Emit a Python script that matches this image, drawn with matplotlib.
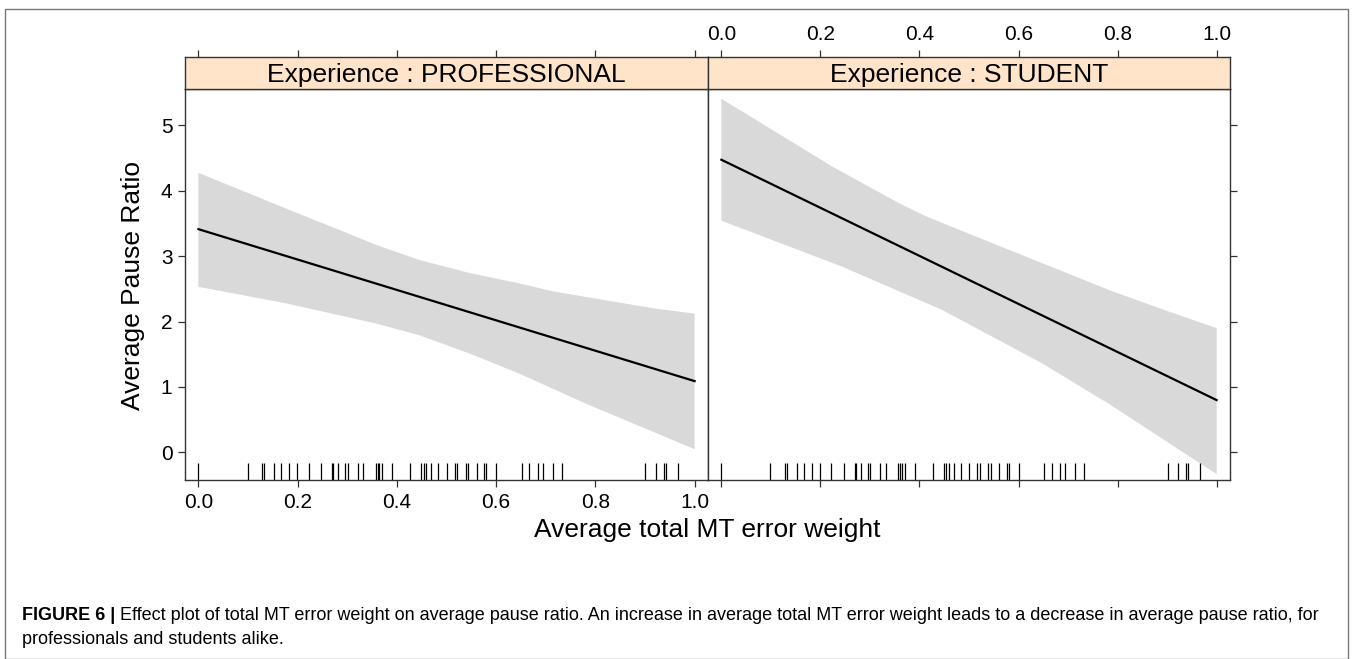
import matplotlib
matplotlib.use('Agg')
import matplotlib.pyplot as plt
from matplotlib.patches import Rectangle
from matplotlib.transforms import blended_transform_factory

plt.rcParams['font.family'] = ['Liberation Sans', 'DejaVu Sans']

# ---------------- data ----------------
panel_titles = ['Experience : PROFESSIONAL', 'Experience : STUDENT']

fit_x = [0.0, 1.0]
fit_pro = [3.41, 1.09]
fit_stu = [4.47, 0.80]

upper_pro_x = [0.0, 0.175, 0.29, 0.358, 0.445, 0.547, 0.648, 0.715, 0.816, 0.918, 1.0]
upper_pro_y = [4.27, 3.73, 3.38, 3.17, 2.94, 2.74, 2.58, 2.46, 2.33, 2.20, 2.12]
lower_pro_x = [0.0, 0.175, 0.358, 0.445, 0.547, 0.648, 0.783, 1.0]
lower_pro_y = [2.53, 2.28, 1.97, 1.79, 1.51, 1.20, 0.74, 0.05]

upper_stu_x = [0.0, 0.061, 0.223, 0.358, 0.412, 0.513, 0.648, 0.783, 0.904, 1.0]
upper_stu_y = [5.40, 5.12, 4.37, 3.81, 3.61, 3.30, 2.89, 2.48, 2.15, 1.90]
lower_stu_x = [0.0, 0.243, 0.445, 0.648, 0.783, 1.0]
lower_stu_y = [3.54, 2.84, 2.18, 1.36, 0.74, -0.33]

rug_x = [0.000, 0.099, 0.129, 0.133, 0.153, 0.167, 0.182, 0.199, 0.222, 0.248,
         0.269, 0.272, 0.282, 0.296, 0.301, 0.321, 0.332, 0.357, 0.361, 0.364,
         0.371, 0.391, 0.427, 0.449, 0.454, 0.459, 0.469, 0.483, 0.500, 0.517,
         0.522, 0.539, 0.544, 0.561, 0.576, 0.580, 0.600, 0.652, 0.667, 0.684,
         0.694, 0.714, 0.733, 0.901, 0.922, 0.939, 0.942, 0.966]

x_ticks = [0.0, 0.2, 0.4, 0.6, 0.8, 1.0]
x_ticklabels = ['0.0', '0.2', '0.4', '0.6', '0.8', '1.0']
y_ticks = [0, 1, 2, 3, 4, 5]
y_ticklabels = ['0', '1', '2', '3', '4', '5']

x_label = 'Average total MT error weight'
y_label = 'Average Pause Ratio'
caption_bold = 'FIGURE 6 | '
caption_1 = ('Effect plot of total MT error weight on average pause ratio. An increase in average '
             'total MT error weight leads to a decrease in average pause ratio, for')
caption_2 = 'professionals and students alike.'

# ---------------- layout ----------------
W, H = 1357, 659
fig = plt.figure(figsize=(W / 100, H / 100), dpi=100)


def rect(x0, y0, x1, y1):
    return [x0 / W, 1 - y1 / H, (x1 - x0) / W, (y1 - y0) / H]


XLIM = (-0.027, 1.027)
YLIM = (-0.42, 5.55)
BAND = '#D9D9D9'
STRIP = '#FFE4C9'
EDGE = '#333333'
TICK_FS = 15

panel_px = [(185, 708), (708, 1230)]
fits = [fit_pro, fit_stu]
bands = [(upper_pro_x, upper_pro_y, lower_pro_x, lower_pro_y),
         (upper_stu_x, upper_stu_y, lower_stu_x, lower_stu_y)]

for i, (x0, x1) in enumerate(panel_px):
    ax = fig.add_axes(rect(x0, 89, x1, 480))
    ux, uy, lx, ly = bands[i]
    ax.fill(list(ux) + list(lx[::-1]), list(uy) + list(ly[::-1]),
            color=BAND, lw=0, zorder=1)
    ax.plot(fit_x, fits[i], color='black', lw=1.6, zorder=3)
    trans = blended_transform_factory(ax.transData, ax.transAxes)
    ax.vlines(rug_x, 0, 17 / 391, transform=trans, color='black', lw=0.9, zorder=4)
    ax.set_xlim(*XLIM)
    ax.set_ylim(*YLIM)
    for s in ax.spines.values():
        s.set_color(EDGE)
        s.set_linewidth(1.0)
    ax.set_xticks(x_ticks)
    ax.set_yticks(y_ticks)
    ax.tick_params(direction='out', length=5, width=0.9, color=EDGE,
                   labelsize=TICK_FS, pad=4)
    if i == 0:
        ax.set_xticklabels(x_ticklabels)
        ax.set_yticklabels(y_ticklabels)
    else:
        ax.tick_params(labelbottom=False)
        ax.yaxis.tick_right()
        ax.tick_params(axis='y', labelright=False, direction='out', length=5)

    # strip
    sa = fig.add_axes(rect(x0, 57, x1, 89))
    sa.set_facecolor(STRIP)
    sa.set_xlim(*XLIM)
    sa.set_ylim(0, 1)
    sa.set_yticks([])
    for s in sa.spines.values():
        s.set_color(EDGE)
        s.set_linewidth(1.0)
    sa.xaxis.set_ticks_position('top')
    sa.set_xticks(x_ticks)
    sa.tick_params(direction='out', length=5, width=0.9, color=EDGE,
                   labelsize=TICK_FS, pad=4)
    if i == 1:
        sa.set_xticklabels(x_ticklabels)
        sa.tick_params(labeltop=True)
    else:
        sa.tick_params(labeltop=False)
    sa.text(0.5, 0.45, panel_titles[i], transform=sa.transAxes,
            ha='center', va='center', fontsize=19)

fig.text(707 / W, 1 - 530 / H, x_label, ha='center', va='center', fontsize=19)
fig.text(133 / W, 1 - 285 / H, y_label, ha='center', va='center',
         rotation=90, fontsize=19)

# caption
CAP_FS = 13
t1 = fig.text(22 / W, 1 - 615 / H, caption_bold, ha='left', va='center',
              fontsize=CAP_FS, fontweight='bold')
fig.add_artist(matplotlib.text.Annotation(caption_1, xy=(1, 0), xycoords=t1,
                                          ha='left', va='bottom', fontsize=CAP_FS,
                                          annotation_clip=False))
fig.text(22 / W, 1 - 639 / H, caption_2, ha='left', va='center', fontsize=CAP_FS)

# outer frame
fig.patches.append(Rectangle((5 / W, 1 - 658.5 / H), (1348 - 5) / W, (658.5 - 9) / H,
                             transform=fig.transFigure, fill=False,
                             edgecolor='#777777', lw=1.0))

fig.savefig('out.png', dpi=100)
